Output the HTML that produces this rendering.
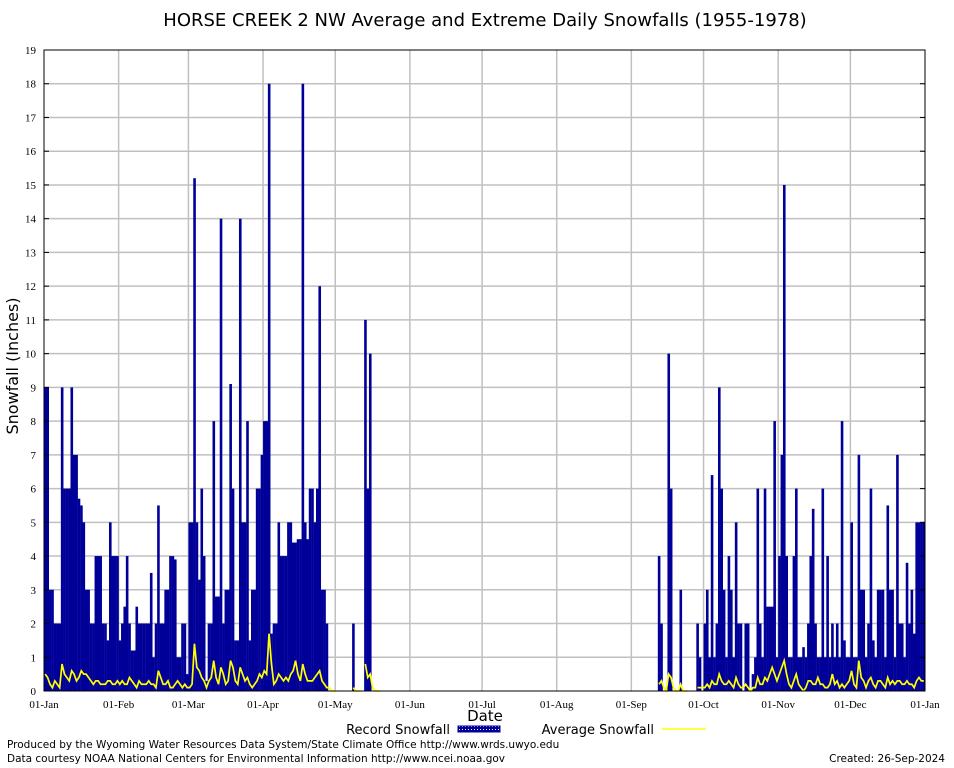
<!DOCTYPE html>
<html><head><meta charset="utf-8"><style>
html,body{margin:0;padding:0;background:#fff;}
svg{display:block;}
.sans{font-family:"DejaVu Sans","Liberation Sans",sans-serif;}
.serif{font-family:"Liberation Serif",serif;}
</style></head><body>
<svg id="chart" width="954" height="768" viewBox="0 0 954 768" xmlns="http://www.w3.org/2000/svg">
<defs>
<pattern id="hatch" width="3" height="3" patternUnits="userSpaceOnUse">
<rect width="3" height="3" fill="#000099"/><rect x="0" y="0" width="1" height="1" fill="#ffffff"/>
</pattern>
</defs>
<rect x="0" y="0" width="954" height="768" fill="#fff"/>
<text class="sans" x="485" y="26" font-size="18" text-anchor="middle">HORSE CREEK 2 NW Average and Extreme Daily Snowfalls (1955-1978)</text>
<g id="grid"></g>
<g id="bars"></g>
<g id="avg"></g>
<rect x="44" y="50" width="881" height="641" fill="none" stroke="#000" stroke-width="1"/>
<g id="yticks"></g>
<g id="xticks"></g>
<text class="sans" transform="translate(18,366) rotate(-90)" font-size="16" text-anchor="middle">Snowfall (Inches)</text>
<text class="sans" x="485" y="721" font-size="15" text-anchor="middle">Date</text>
<g>
<text class="sans" x="450" y="734" font-size="13" text-anchor="end">Record Snowfall</text>
<rect x="458" y="726" width="42" height="6" fill="url(#hatch)" stroke="#000099"/>
<text class="sans" x="654" y="734" font-size="13" text-anchor="end">Average Snowfall</text>
<line x1="662" y1="729" x2="706" y2="729" stroke="#ffff00" stroke-width="1.5"/>
</g>
<text class="sans" x="7" y="748" font-size="10.5">Produced by the Wyoming Water Resources Data System/State Climate Office http://www.wrds.uwyo.edu</text>
<text class="sans" x="7" y="762" font-size="10.5">Data courtesy NOAA National Centers for Environmental Information http://www.ncei.noaa.gov</text>
<text class="sans" x="945" y="762" font-size="10.5" text-anchor="end">Created:  26-Sep-2024</text>
</svg>
<script>
const monthLabels = ["01-Jan","01-Feb","01-Mar","01-Apr","01-May","01-Jun","01-Jul","01-Aug","01-Sep","01-Oct","01-Nov","01-Dec","01-Jan"];
const monthStartDays = [0,31,60,91,121,152,182,213,244,274,305,335,366];
const yTicks = [0,1,2,3,4,5,6,7,8,9,10,11,12,13,14,15,16,17,18,19];
const recordSnow = [
9,9,3,3,2,2,2,9,6,6,6,9,7,7,5.7,5.5,5,3,3,2,2,4,4,4,2,2,1.5,5,4,4,4,
1.5,2,2.5,4,2,1.2,1.2,2.5,2,2,2,2,2,3.5,1,2,5.5,2,2,3,3,4,4,3.9,1,1,2,2,0.5,
5,5,15.2,5,3.3,6,4,0.3,2,2,8,2.8,2.8,14,2,3,3,9.1,6,1.5,1.5,14,5,5,8,1.5,3,3,6,6,7,
8,8,18,1.7,2,2,5,4,4,4,5,5,4.4,4.4,4.5,4.5,18,5,4.5,6,6,5,6,12,3,3,2,0,0,0,
0,0,0,0,0,0,0,2,0,0,0,0,11,6,10,0,0,0,0,0,0,0,0,0,0,0,0,0,0,0,0,
0,0,0,0,0,0,0,0,0,0,0,0,0,0,0,0,0,0,0,0,0,0,0,0,0,0,0,0,0,0,
0,0,0,0,0,0,0,0,0,0,0,0,0,0,0,0,0,0,0,0,0,0,0,0,0,0,0,0,0,0,0,
0,0,0,0,0,0,0,0,0,0,0,0,0,0,0,0,0,0,0,0,0,0,0,0,0,0,0,0,0,0,0,
0,0,0,0,0,0,0,0,0,0,0,4,2,0,0,10,6,0,0,0,3,0,0,0,0,0,0,2,1,0,
2,3,1,6.4,1,2,9,6,3,1,4,3,1,5,2,2,0,2,2,0,0.5,1,6,2,1,6,2.5,2.5,2.5,8,1,
4,7,15,4,1,1,4,6,1,1,1.3,1,2,4,5.4,2,1,1,6,1,4,1,2,1,2,1,8,1.5,1,1,
5,1,1,7,3,3,1,2,6,1.5,1,3,3,3,1,5.5,3,3,1,7,2,2,1,3.8,2,3,1.7,5,5,5,5
];
const avgSnow = [
0.5,0.4,0.2,0.1,0.3,0.2,0.1,0.8,0.5,0.4,0.3,0.6,0.5,0.3,0.4,0.6,0.5,0.5,0.4,0.3,0.2,0.3,0.3,0.2,0.2,0.2,0.3,0.3,0.2,0.2,0.3,
0.2,0.3,0.2,0.2,0.4,0.3,0.2,0.1,0.3,0.2,0.2,0.2,0.3,0.2,0.2,0.1,0.6,0.4,0.2,0.2,0.3,0.1,0.1,0.2,0.3,0.2,0.1,0.2,0.1,
0.1,0.2,1.4,0.7,0.6,0.4,0.3,0.1,0.3,0.4,0.9,0.4,0.2,0.7,0.5,0.2,0.3,0.9,0.7,0.3,0.2,0.7,0.5,0.3,0.4,0.2,0.1,0.2,0.3,0.5,0.4,
0.6,0.5,1.7,0.8,0.2,0.3,0.5,0.4,0.3,0.4,0.3,0.5,0.6,0.9,0.5,0.3,0.8,0.5,0.3,0.3,0.3,0.4,0.5,0.6,0.3,0.2,0.1,0.1,0,0,
0,0,0,0,0,0,0,0.1,0,0,0,0,0.8,0.4,0.5,0.1,0,0,0,0,0,0,0,0,0,0,0,0,0,0,0,
0,0,0,0,0,0,0,0,0,0,0,0,0,0,0,0,0,0,0,0,0,0,0,0,0,0,0,0,0,0,
0,0,0,0,0,0,0,0,0,0,0,0,0,0,0,0,0,0,0,0,0,0,0,0,0,0,0,0,0,0,0,
0,0,0,0,0,0,0,0,0,0,0,0,0,0,0,0,0,0,0,0,0,0,0,0,0,0,0,0,0,0,0,
0,0,0,0,0,0,0,0,0,0,0,0.2,0.3,0.1,0,0.5,0.4,0.1,0,0,0.2,0,0,0,0,0,0,0.1,0.1,0.1,
0.1,0.2,0.1,0.3,0.2,0.2,0.5,0.3,0.2,0.2,0.3,0.2,0.1,0.4,0.2,0.1,0.1,0.2,0.1,0,0.1,0.1,0.4,0.2,0.2,0.4,0.3,0.5,0.7,0.5,0.3,
0.5,0.7,0.9,0.5,0.2,0.1,0.3,0.5,0.2,0.1,0,0.1,0.3,0.3,0.2,0.2,0.4,0.2,0.2,0.1,0.1,0.2,0.5,0.2,0.3,0.1,0.2,0.1,0.2,0.3,
0.6,0.2,0.1,0.9,0.4,0.3,0.1,0.3,0.4,0.2,0.1,0.3,0.3,0.2,0.1,0.4,0.2,0.3,0.2,0.3,0.3,0.2,0.2,0.3,0.2,0.2,0.1,0.3,0.4,0.3,0.3
];
const NS="http://www.w3.org/2000/svg";
const X0=44,X1=925,Y0=691,Y1=50,NDAYS=366,YMAX=19;
function xScale(d){return X0+d*(X1-X0)/NDAYS;}
function yScale(v){return Y0-v*(Y0-Y1)/YMAX;}
function mk(tag,attrs,parent){const e=document.createElementNS(NS,tag);for(const k in attrs)e.setAttribute(k,attrs[k]);parent.appendChild(e);return e;}
const grid=document.getElementById('grid');
yTicks.forEach(v=>{
  if(v>0&&v<YMAX){const l=mk('line',{x1:X0,x2:X1,y1:yScale(v),y2:yScale(v),stroke:'#c0c0c0','stroke-width':1.5},grid);
  
  }
});
monthStartDays.forEach(d=>{
  if(d>0&&d<NDAYS){const l=mk('line',{x1:xScale(d),x2:xScale(d),y1:Y1,y2:Y0,stroke:'#c0c0c0','stroke-width':1.5},grid);
  
  }
});
const bars=document.getElementById('bars');
const w=(X1-X0)/NDAYS;
recordSnow.forEach((v,i)=>{
  if(v>0){const r=mk('rect',{x:xScale(i),y:yScale(v),width:w+0.2,height:Y0-yScale(v),fill:'#000099'},bars);
  
  }
});
const avgG=document.getElementById('avg');
let segs=[],cur=[],zeroRun=0;
avgSnow.forEach((v,i)=>{
  if(v===0){zeroRun++;}else{zeroRun=0;}
  if(zeroRun>3){if(cur.length>1)segs.push(cur);cur=[];}
  else cur.push(xScale(i+0.5).toFixed(2)+','+yScale(v).toFixed(2));
});
if(cur.length>1)segs.push(cur);
segs.forEach(s=>{
  const pl=mk('polyline',{points:s.join(' '),fill:'none',stroke:'#ffff00','stroke-width':1.7},avgG);
  
  
});
const yt=document.getElementById('yticks');
yTicks.forEach(v=>{
  const t=mk('line',{x1:X0,x2:X0+5,y1:yScale(v),y2:yScale(v),stroke:'#000'},yt);
  
  
  const t2=mk('line',{x1:X1-5,x2:X1,y1:yScale(v),y2:yScale(v),stroke:'#000'},yt);
  
  
  const tx=mk('text',{x:36,y:yScale(v)+4,'font-size':11,'text-anchor':'end','class':'serif'},yt);
  tx.textContent=v;
  
  
});
const xt=document.getElementById('xticks');
monthStartDays.forEach((d,i)=>{
  const tx=mk('text',{x:xScale(d),y:708,'font-size':11,'text-anchor':'middle','class':'serif'},xt);
  tx.textContent=monthLabels[i];
  
  
});
</script>
</body></html>
